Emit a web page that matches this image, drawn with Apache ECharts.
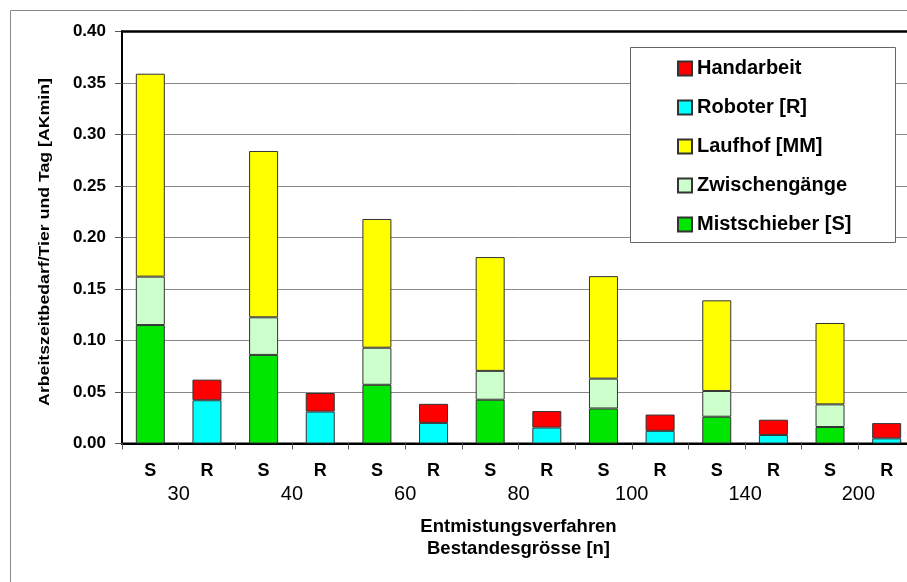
<!DOCTYPE html>
<html lang="de">
<head>
  <meta charset="UTF-8">
  <title>Arbeitszeitbedarf</title>
  <script src="https://cdn.jsdelivr.net/npm/echarts@6/dist/echarts.min.js"></script>
  <style>
    html, body { margin: 0; padding: 0; background: #fff; overflow: hidden; }
    /* Diagramm ragt rechts etwas über den Rand hinaus, wie im Original */
    #chart { width: 920px; height: 582px; }
  </style>
</head>
<body>
  <div id="chart"></div>
  <script>
    // Bestandesgrössen und Verfahren (S = Mistschieber, R = Roboter)
    var groups = ['30', '40', '60', '80', '100', '140', '200'];
    var methods = ['S', 'R'];
    var yTicks = [0, 0.4, 0.05];   // min, max, interval

    // S-Balken
    var mistschieber = [0.115, 0.086, 0.057, 0.0425, 0.034, 0.026, 0.016];
    var zwischengaenge = [0.047, 0.0365, 0.036, 0.028, 0.029, 0.025, 0.022];
    var laufhof = [0.197, 0.1615, 0.125, 0.1105, 0.0995, 0.088, 0.079];
    // R-Balken
    var roboter = [0.042, 0.031, 0.020, 0.0155, 0.0123, 0.0083, 0.005];
    var handarbeit = [0.020, 0.018, 0.0185, 0.016, 0.0158, 0.0148, 0.0148];

    var font = "'Liberation Sans', Arial, sans-serif";

    // Kategorien S,R,S,R,...
    var cats = [];
    groups.forEach(function () { cats.push(methods[0], methods[1]); });

    // Werte auf S- bzw. R-Positionen legen
    function onS(arr) {
      var out = [];
      arr.forEach(function (v) { out.push(v, '-'); });
      return out;
    }
    function onR(arr) {
      var out = [];
      arr.forEach(function (v) { out.push('-', v); });
      return out;
    }

    function bar(name, color, data) {
      return {
        name: name,
        type: 'bar',
        stack: 'total',
        barWidth: 29,
        data: data,
        itemStyle: { color: color, borderColor: '#333', borderWidth: 1 }
      };
    }

    var chart = echarts.init(document.getElementById('chart'));
    var option = {
      animation: false,
      textStyle: { fontFamily: font },
      grid: {
        left: 122, top: 31.5, width: 793, height: 412,
        show: true, borderColor: '#000', borderWidth: 2
      },
      legend: {
        orient: 'vertical',
        left: 672, top: 53.5,
        z: 10,
        icon: 'rect',
        itemWidth: 14, itemHeight: 14, itemGap: 19,
        data: ['Handarbeit', 'Roboter [R]', 'Laufhof [MM]', 'Zwischengänge', 'Mistschieber [S]'],
        textStyle: { fontFamily: font, fontSize: 20, fontWeight: 'bold', color: '#000', lineHeight: 20 }
      },
      graphic: [
        {
          type: 'rect', z: 0, silent: true,
          shape: { x: 10.5, y: 10.5, width: 1000, height: 1000 },
          style: { fill: null, stroke: '#888', lineWidth: 1 }
        },
        {
          // obere Rahmenlinie der Zeichenfläche
          type: 'line', z: 5, silent: true,
          shape: { x1: 121, y1: 31.5, x2: 920, y2: 31.5 },
          style: { stroke: '#000', lineWidth: 2 }
        },
        {
          type: 'rect', z: 6, silent: true,
          shape: { x: 630.5, y: 47.5, width: 265, height: 195 },
          style: { fill: '#fff', stroke: '#666', lineWidth: 1 }
        },
        {
          // Achsentitel links, im Original breit gezogen
          type: 'text', silent: true,
          x: 45, y: 242,
          rotation: Math.PI / 2,
          scaleX: 1.18,
          style: {
            text: 'Arbeitszeitbedarf/Tier und Tag [AKmin]',
            font: 'bold 15px ' + font,
            fill: '#000',
            align: 'center',
            verticalAlign: 'middle'
          }
        }
      ],
      xAxis: [
        {
          type: 'category',
          data: cats,
          axisLine: { lineStyle: { color: '#000', width: 2 } },
          axisTick: { show: true, interval: 0, length: 6, lineStyle: { color: '#555' } },
          axisLabel: {
            interval: 0, margin: 19, color: '#000',
            fontFamily: font, fontSize: 18, fontWeight: 'bold', lineHeight: 18
          }
        },
        {
          type: 'category',
          data: groups,
          position: 'bottom',
          axisLine: { show: false },
          axisTick: { show: false },
          axisLabel: { interval: 0, margin: 41, color: '#000', fontFamily: font, fontSize: 20, lineHeight: 20 },
          name: 'Entmistungsverfahren\nBestandesgrösse [n]',
          nameLocation: 'middle',
          nameGap: 72,
          nameTextStyle: { color: '#000', fontFamily: font, fontSize: 18.5, fontWeight: 'bold', lineHeight: 22 }
        }
      ],
      yAxis: {
        type: 'value',
        min: yTicks[0], max: yTicks[1], interval: yTicks[2],
        axisLine: { show: true, lineStyle: { color: '#000', width: 2 } },
        axisTick: { show: true, length: 7, lineStyle: { color: '#555' } },
        axisLabel: {
          margin: 16, color: '#000', fontFamily: font, fontSize: 17, fontWeight: 'bold',
          formatter: function (v) { return v.toFixed(2); }
        },
        splitLine: { lineStyle: { color: '#888', width: 1 } }
      },
      series: [
        bar('Mistschieber [S]', '#00E600', onS(mistschieber)),
        bar('Zwischengänge', '#CCFFCC', onS(zwischengaenge)),
        bar('Laufhof [MM]', '#FFFF00', onS(laufhof)),
        bar('Roboter [R]', '#00FFFF', onR(roboter)),
        bar('Handarbeit', '#FF0000', onR(handarbeit))
      ]
    };
    chart.setOption(option);
  </script>
</body>
</html>
